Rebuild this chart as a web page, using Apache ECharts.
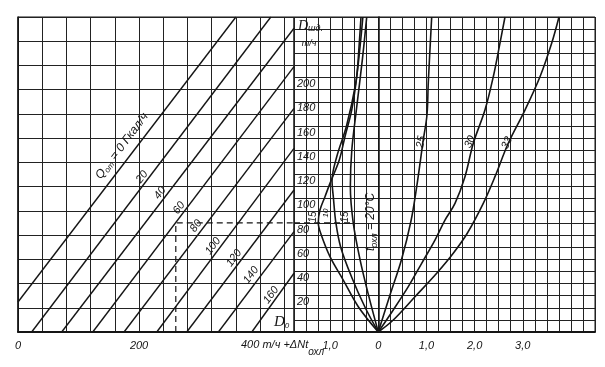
<!DOCTYPE html>
<html><head><meta charset="utf-8">
<script src="https://cdn.jsdelivr.net/npm/echarts@6/dist/echarts.min.js"></script>
<style>html,body{margin:0;padding:0;background:#fff}#c{width:605px;height:367px}</style>
</head><body><div id="c"></div>
<script>
// ---- left panel: D0 (t/h) vs D_shd (t/h), lines of constant Q_ot (Gcal/h)
const qLabels = ['0','20','40','60','80','100','120','140','160'];
const qLineStart = [[0,24.8],[22.6,0],[72.2,0],[123.5,0],[175.2,0],[229.3,0],[278.8,0],[331.1,0],[386.3,0]];
const qLineEnd   = [[360,260],[417.7,260],[456,250.7],[456,219],[456,184.6],[456,151.6],[456,117.2],[456,82.8],[456,48.5]];
const leftXTicks = {0:'0',200:'200'};
// ---- right panel: dN (correction) vs D_shd, curves of t_okhl
const curve25 = [[0,0],[0.243,30.5],[0.486,60.3],[0.679,91.6],[0.797,119.7],[0.934,158.5],[1.011,179.1],[1.038,205.5],[1.109,260]];
const curve30 = [[0,0],[0.311,18.2],[0.623,37.4],[0.901,56.7],[1.177,75.9],[1.385,92.4],[1.593,106.2],[1.800,128.2],[1.973,155.8],[2.215,183.2],[2.388,210.7],[2.527,238.5],[2.631,260]];
const curve33 = [[0,0],[0.311,9.9],[0.762,29.1],[1.213,48.5],[1.557,65],[1.848,81.5],[2.180,106.2],[2.423,128.2],[2.699,155.8],[3.046,183.2],[3.358,210.7],[3.600,238.3],[3.752,260]];
const curve15a = [[0,0],[-0.415,20.9],[-0.727,42.9],[-1.003,62.2],[-1.196,81.5],[-1.246,90.2],[-1.211,100.7],[-1.107,111.7],[-1.003,122.7],[-0.810,142],[-0.692,161.2],[-0.552,183.2],[-0.448,210.7],[-0.395,238.3],[-0.359,260]];
const curve10 = [[0,0],[-0.27,20],[-0.55,45],[-0.78,70],[-0.88,90],[-0.93,110],[-0.96,125],[-0.86,145],[-0.66,170],[-0.47,205],[-0.38,235],[-0.32,260]];
const curve15b = [[0,0],[-0.2,30],[-0.38,60],[-0.52,90],[-0.58,120],[-0.55,150],[-0.45,185],[-0.33,225],[-0.24,260]];
const rightXTicks = {'-1':'1,0','0':'0','1':'1,0','2':'2,0','3':'3,0'};
const exampleD0 = 260.7, exampleD = 90;

const ink = '#151515';
const FONT = 'Liberation Sans';
const chart = echarts.init(document.getElementById('c'), null, {renderer:'canvas'});
const series = [];
qLineStart.forEach((s,i)=>{
  series.push({type:'line', xAxisIndex:0, yAxisIndex:0, data:[s, qLineEnd[i]], symbol:'none', silent:true,
    lineStyle:{color:ink, width:1.4}, clip:true, z:3});
});
[curve25,curve30,curve33,curve15a,curve10,curve15b].forEach(c=>{
  series.push({type:'line', xAxisIndex:1, yAxisIndex:1, data:c, smooth:0.35, symbol:'none', silent:true,
    lineStyle:{color:ink, width:1.6}, clip:true, z:3});
});
// example dashed route
series.push({type:'line', xAxisIndex:0, yAxisIndex:0, data:[[exampleD0,0],[exampleD0,exampleD],[456,exampleD]], symbol:'none',
  lineStyle:{color:ink, width:1.2, type:[6,4]}, z:2});
series.push({type:'line', xAxisIndex:1, yAxisIndex:1, data:[[-1.75,exampleD],[-0.55,exampleD]], symbol:'none',
  lineStyle:{color:ink, width:1.2, type:[6,4]}, z:2});

const gridLine = {show:true, lineStyle:{color:'#222', width:1}};
const lbl = {fontFamily:FONT, fontStyle:'italic', fontSize:11, color:ink};
function t(x,y,text,rot,size,extra){
  return Object.assign({type:'text', x:x, y:y, rotation:(rot||0)*Math.PI/180, z:10,
    style:{text:text, fill:ink, font:'italic '+(size||11)+'px '+FONT, align:'center', verticalAlign:'middle'}}, extra||{});
}
const option = {
  animation:false,
  backgroundColor:'#fff',
  grid:[
    {left:18, top:17, width:276, height:315, show:true, borderColor:ink, borderWidth:1},
    {left:294, top:17, width:301, height:315, show:true, borderColor:ink, borderWidth:1}
  ],
  xAxis:[
    {type:'value', gridIndex:0, min:0, max:456, interval:40,
     axisLine:{show:true, lineStyle:{color:ink, width:2}}, axisTick:{show:false},
     splitLine:gridLine,
     axisLabel:Object.assign({margin:8, formatter:v=>leftXTicks[v]!==undefined?leftXTicks[v]:''}, lbl)},
    {type:'value', gridIndex:1, min:-1.75, max:4.5, interval:0.25,
     axisLine:{show:true, lineStyle:{color:ink, width:2}}, axisTick:{show:false},
     splitLine:gridLine,
     axisLabel:Object.assign({margin:8, formatter:v=>{const k=String(Math.round(v*100)/100);return rightXTicks[k]!==undefined?rightXTicks[k]:'';}}, lbl)}
  ],
  yAxis:[
    {type:'value', gridIndex:0, min:0, max:260, interval:20,
     axisLine:{show:true, lineStyle:{color:ink, width:1.5}}, axisTick:{show:false},
     splitLine:gridLine, axisLabel:{show:false}},
    {type:'value', gridIndex:1, min:0, max:260, interval:10,
     axisLine:{show:true, lineStyle:{color:ink, width:1.5}}, axisTick:{show:false},
     splitLine:gridLine,
     axisLabel:Object.assign({inside:true, margin:3, verticalAlign:'bottom',
       formatter:v=>(v>=20 && v<=200 && v%20===0)?String(v):''}, lbl)}
  ],
  series:series,
  graphic:[
    {type:'text', x:122, y:146, rotation:53*Math.PI/180, z:10,
     style:{text:'{a|Q}{b|от}{a| = 0 Гкал/ч}', align:'center', verticalAlign:'middle',
       rich:{a:{fontFamily:FONT, fontStyle:'italic', fontSize:12, fill:ink}, b:{fontFamily:FONT, fontStyle:'italic', fontSize:8, fill:ink, padding:[6,0,0,0]}}}},
    t(142,177,qLabels[1],53), t(160,193,qLabels[2],53), t(179,208,qLabels[3],53), t(196,226,qLabels[4],53),
    t(213,246,qLabels[5],53), t(234,258,qLabels[6],53), t(251,275,qLabels[7],53), t(271,295,qLabels[8],53),
    {type:'text', x:274, y:322, z:10, style:{text:'{a|D}{b|0}', align:'left', verticalAlign:'middle',
       rich:{a:{fontFamily:'Liberation Serif', fontStyle:'italic', fontSize:15, fill:ink}, b:{fontFamily:FONT, fontStyle:'italic', fontSize:8, fill:ink, padding:[7,0,0,0]}}}},
    {type:'text', x:298, y:26, z:10, style:{text:'{a|D}{b|шд.}', align:'left', verticalAlign:'middle',
       rich:{a:{fontFamily:'Liberation Serif', fontStyle:'italic', fontSize:14, fill:ink}, b:{fontFamily:FONT, fontStyle:'italic', fontSize:9, fill:ink, padding:[5,0,0,0]}}}},
    t(309,43,'т/ч',0,9),
    {type:'text', x:241, y:345, z:10, style:{text:'{a|400 т/ч +ΔNt}{b|охл}', align:'left', verticalAlign:'middle',
       rich:{a:{fontFamily:FONT, fontStyle:'italic', fontSize:11, fill:ink}, b:{fontFamily:FONT, fontStyle:'italic', fontSize:10, fill:ink, padding:[14,0,0,0]}}}},
    t(421,142,'25',80), t(470,142,'30',65), t(507,143,'33',65),
    t(313,217,'15',90,10), t(326,213,'10',90,8), t(345,217,'15',90,10),
    {type:'text', x:371, y:222, rotation:Math.PI/2, z:10,
     style:{text:'{a|t}{b|охл}{a| = 20°C}', align:'center', verticalAlign:'middle',
       rich:{a:{fontFamily:FONT, fontStyle:'italic', fontSize:12, fill:ink}, b:{fontFamily:FONT, fontStyle:'italic', fontSize:9, fill:ink, padding:[6,0,0,0]}}}}
  ]
};
chart.setOption(option);
</script></body></html>
